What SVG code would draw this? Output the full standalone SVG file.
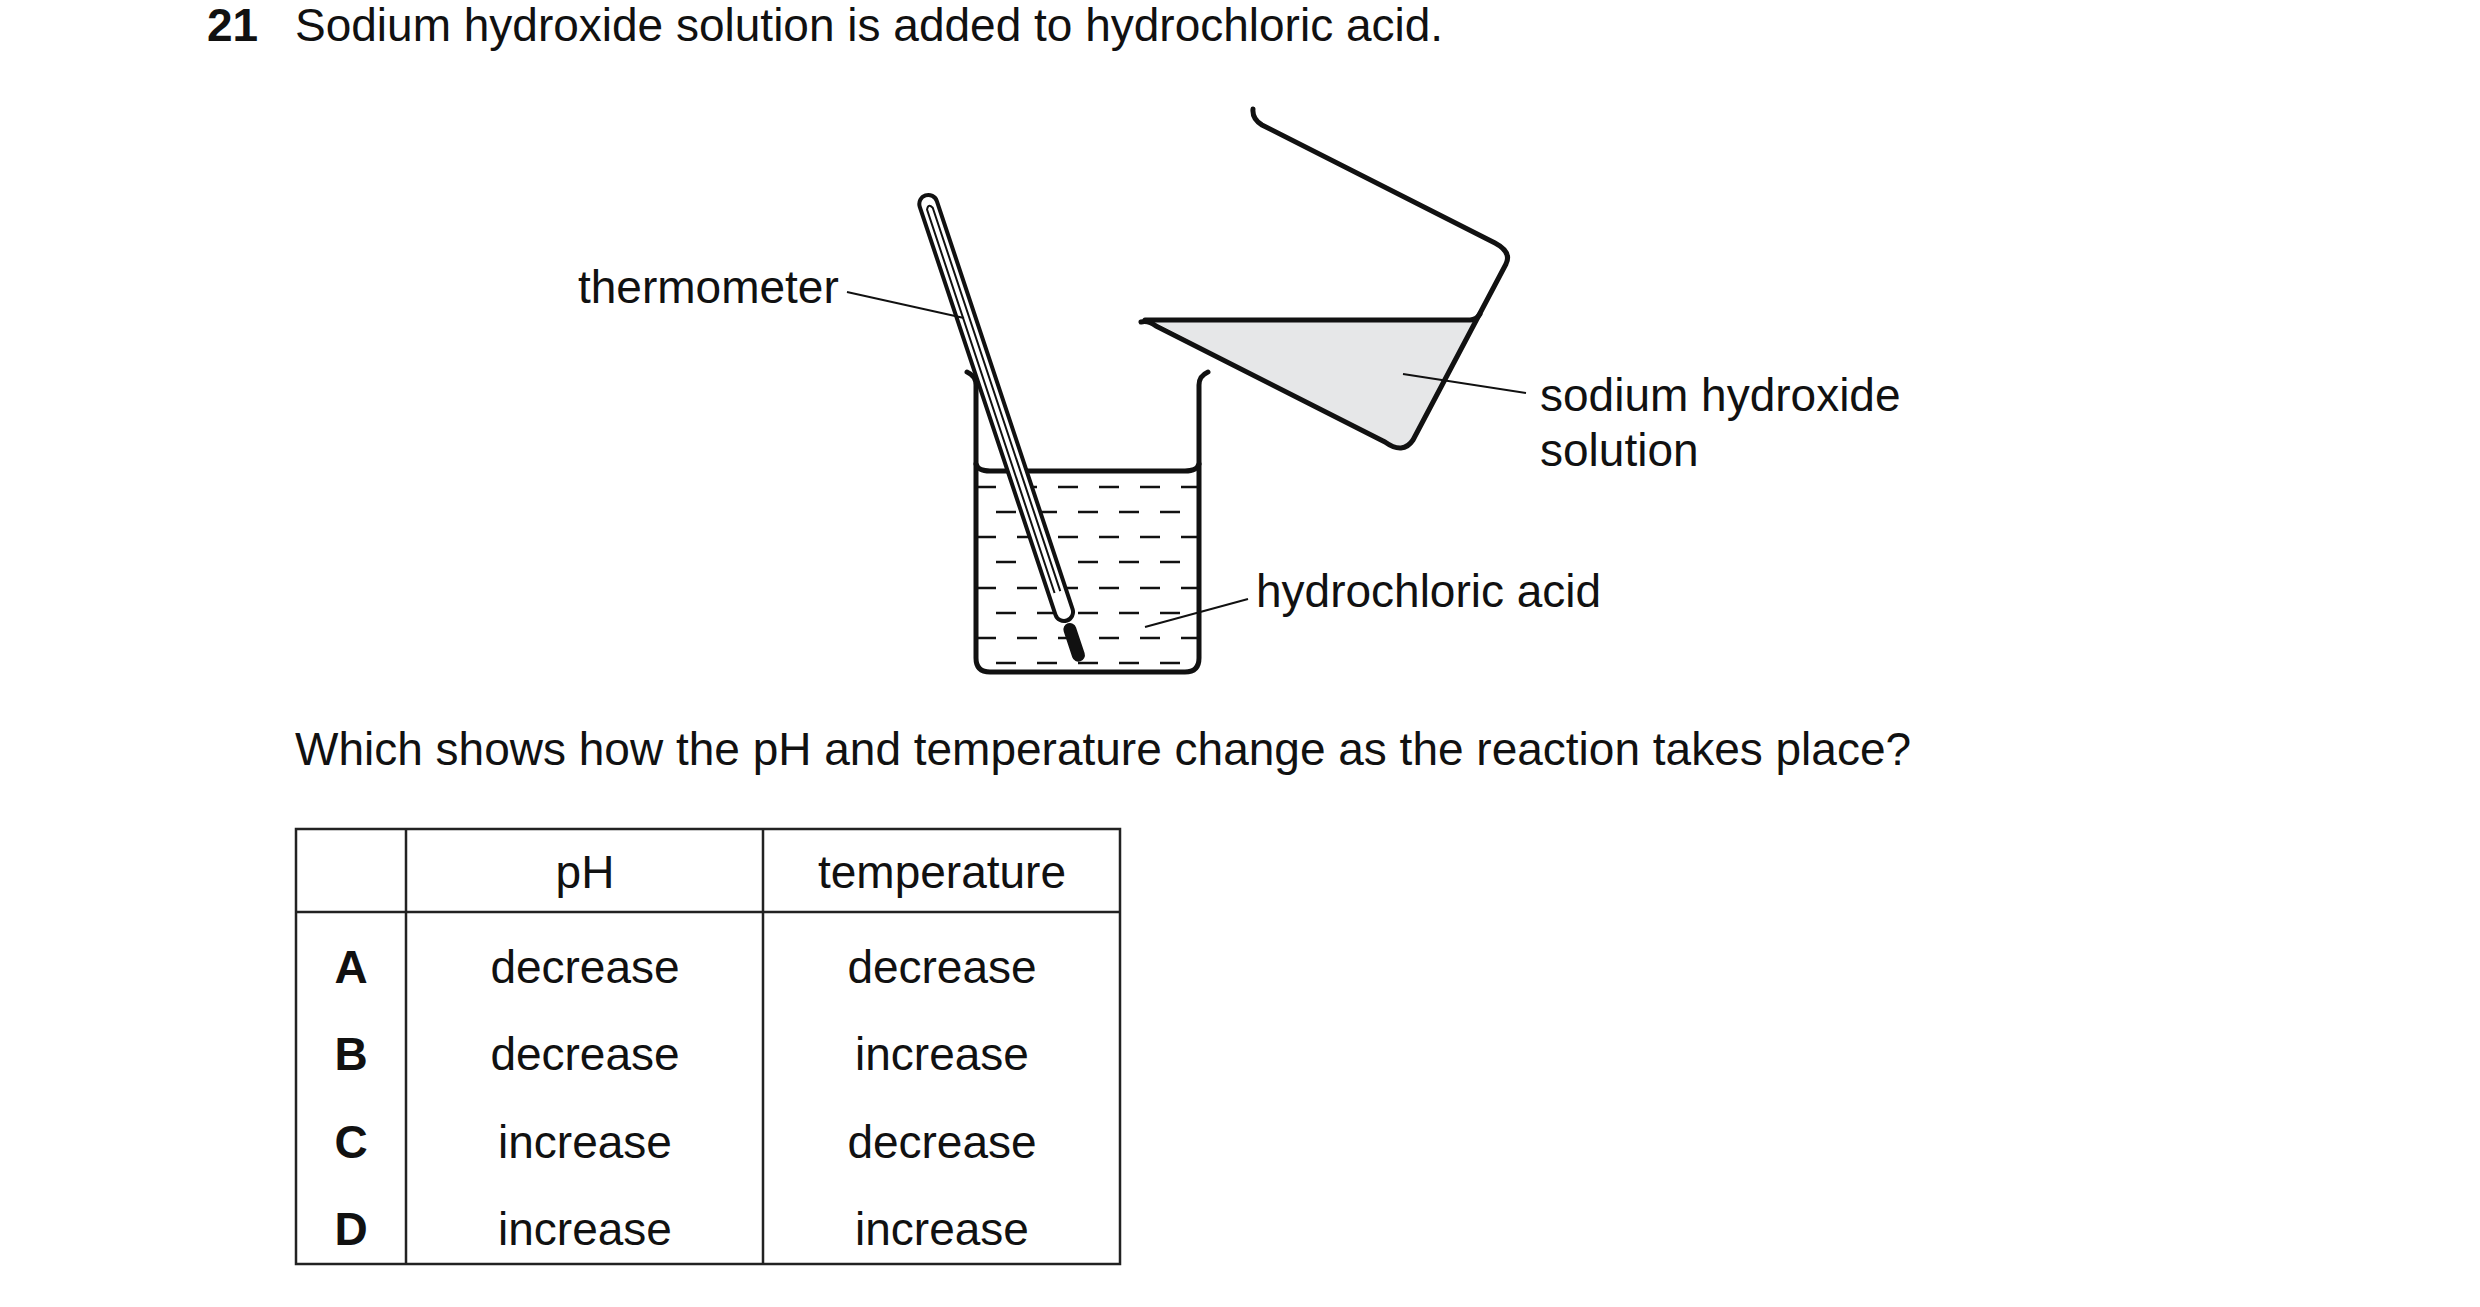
<svg xmlns="http://www.w3.org/2000/svg" width="2480" height="1307" viewBox="0 0 2480 1307">
<style>
text{font-family:"Liberation Sans",Arial,sans-serif;font-size:46px;fill:#111}
.b{font-weight:bold}
.ln{fill:none;stroke:#111;stroke-width:5;stroke-linecap:round;stroke-linejoin:round}
.th{fill:none;stroke:#111;stroke-width:2}
.ds{stroke:#111;stroke-width:2.5;stroke-dasharray:20 21}
.tb{fill:none;stroke:#222;stroke-width:2.5}
</style>
<rect width="2480" height="1307" fill="#fff"/>
<text x="207" y="41" class="b">21</text>
<text x="295" y="41">Sodium hydroxide solution is added to hydrochloric acid.</text>

<g id="beaker">
<path class="ln" d="M967,372 Q976,376 976,385 L976,658 Q976,672 990,672 L1185,672 Q1199,672 1199,658 L1199,385 Q1199,376 1208,372"/>
<path class="ln" d="M976,464 Q978,471 990,471 L1185,471 Q1197,471 1199,464"/>
<g class="ds">
<line x1="976" y1="487" x2="1199" y2="487"/>
<line x1="996" y1="512" x2="1199" y2="512"/>
<line x1="976" y1="537" x2="1199" y2="537"/>
<line x1="996" y1="562" x2="1199" y2="562"/>
<line x1="976" y1="588" x2="1199" y2="588"/>
<line x1="996" y1="613" x2="1199" y2="613"/>
<line x1="976" y1="638" x2="1199" y2="638"/>
<line x1="996" y1="663" x2="1199" y2="663"/>
</g>
</g>

<g id="pouring-beaker">
<path d="M1153,321 L1475,321 L1413,440 Q1403,455 1385,442 Z" fill="#e6e7e8"/>
<path class="ln" d="M1253,109 Q1252,119 1262,125 L1495,243 Q1512,252 1506,264 L1413,440 Q1403,455 1385,442 L1156,326 Q1148,320 1141,322"/>
<path class="ln" d="M1145,320 L1470,320 Q1476,320 1480,314"/>
</g>

<g id="thermometer" transform="translate(928,203) rotate(-18.4)">
<rect x="-9" y="-8" width="18" height="448" rx="9" fill="#fff" stroke="#111" stroke-width="4"/>
<path class="th" d="M-3,410 L-3,6 Q0,0 3,6 L3,410"/>
<rect x="-6.5" y="443" width="13" height="40" rx="6.5" fill="#111"/>
</g>

<g id="labels">
<text x="578" y="303">thermometer</text>
<text x="1540" y="411">sodium hydroxide</text>
<text x="1540" y="466">solution</text>
<text x="1256" y="607">hydrochloric acid</text>
</g>
<g id="connectors" stroke="#111" stroke-width="2">
<line x1="847" y1="292" x2="964" y2="318"/>
<line x1="1403" y1="374" x2="1526" y2="393"/>
<line x1="1145" y1="627" x2="1248" y2="599"/>
</g>

<text x="295" y="765">Which shows how the pH and temperature change as the reaction takes place?</text>

<g id="table">
<rect class="tb" x="296" y="829" width="824" height="435"/>
<line class="tb" x1="406" y1="829" x2="406" y2="1264"/>
<line class="tb" x1="763" y1="829" x2="763" y2="1264"/>
<line class="tb" x1="296" y1="912" x2="1120" y2="912"/>
<g text-anchor="middle">
<text x="585" y="888">pH</text><text x="942" y="888">temperature</text>
<text x="351" y="983" class="b">A</text><text x="585" y="983">decrease</text><text x="942" y="983">decrease</text>
<text x="351" y="1070" class="b">B</text><text x="585" y="1070">decrease</text><text x="942" y="1070">increase</text>
<text x="351" y="1158" class="b">C</text><text x="585" y="1158">increase</text><text x="942" y="1158">decrease</text>
<text x="351" y="1245" class="b">D</text><text x="585" y="1245">increase</text><text x="942" y="1245">increase</text>
</g>
</g>
</svg>
